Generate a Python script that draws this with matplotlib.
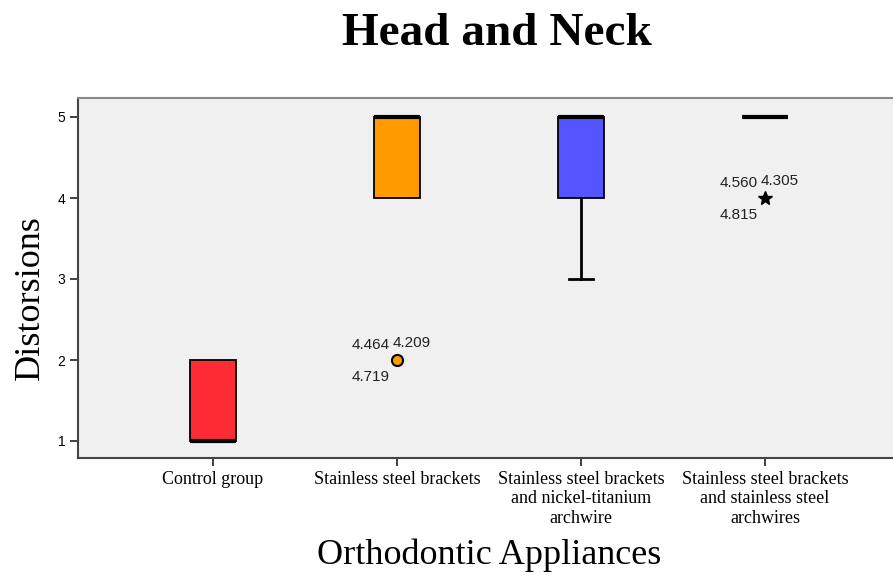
import matplotlib
matplotlib.use("Agg")
import matplotlib.pyplot as plt

categories = ["Control group", "Stainless steel brackets",
              "Stainless steel brackets\nand nickel-titanium\narchwire",
              "Stainless steel brackets\nand stainless steel\narchwires"]
q1 = [1, 4, 4, 5]
med = [1, 5, 5, 5]
q3 = [2, 5, 5, 5]
whislo = [1, 4, 3, 5]
whishi = [2, 5, 5, 5]
colors = ["#ff2b35", "#ff9a00", "#5555ff", "#ffffff"]
outlier_values = [None, 2, None, 4]
outlier_labels = [None, ["4.464", "4.209", "4.719"], None, ["4.560", "4.305", "4.815"]]
yticks = [1, 2, 3, 4, 5]

fig = plt.figure(figsize=(8.93, 5.76), dpi=100)
ax = fig.add_axes([78/893, 1 - 458/576, (893 - 78)/893, (458 - 98)/576])
ax.set_facecolor("#f0f0f0")

positions = [1, 2, 3, 4]
stats = []
for i in range(4):
    stats.append(dict(med=med[i], q1=q1[i], q3=q3[i], whislo=whislo[i],
                      whishi=whishi[i], fliers=[]))

bp = ax.bxp(stats, positions=positions, widths=0.25, patch_artist=True,
            showfliers=False, capwidths=0.13,
            boxprops=dict(linewidth=1.3, edgecolor="black"),
            medianprops=dict(color="black", linewidth=3),
            whiskerprops=dict(color="black", linewidth=2),
            capprops=dict(color="black", linewidth=2))
for i, patch in enumerate(bp["boxes"]):
    patch.set_facecolor(colors[i])
    if q1[i] == q3[i]:
        patch.set_edgecolor("none")
for i in range(4):
    if whislo[i] == q1[i]:
        bp["whiskers"][2*i].set_visible(False)
        bp["caps"][2*i].set_visible(False)
    if whishi[i] == q3[i]:
        bp["whiskers"][2*i+1].set_visible(False)
        bp["caps"][2*i+1].set_visible(False)

for i in range(4):
    v = outlier_values[i]
    if v is None:
        continue
    x = positions[i]
    if i == 1:
        ax.plot([x], [v], marker="o", markersize=8, markerfacecolor=colors[i],
                markeredgecolor="black", markeredgewidth=1.5, zorder=5)
    else:
        ax.plot([x], [v], marker="*", markersize=10, color="black", zorder=5)
    labs = outlier_labels[i]
    kw = dict(xycoords="data", textcoords="offset pixels", fontsize=11,
              family="Liberation Sans", color="#222222", va="center")
    ax.annotate(labs[0], (x, v), xytext=(-7, 15), ha="right", **kw)
    ax.annotate(labs[1], (x, v), xytext=(-4, 17), ha="left", **kw)
    ax.annotate(labs[2], (x, v), xytext=(-7, -17), ha="right", **kw)

ax.set_xlim(1 - 135/184, 4 + 128/184)
ax.set_ylim(1 - 17/81, 5 + 19/81)
ax.set_yticks(yticks)
ax.set_yticklabels([str(t) for t in yticks], family="Liberation Sans", fontsize=10)
ax.set_xticks(positions)
ax.set_xticklabels(categories, family="Liberation Serif", fontsize=13,
                   linespacing=1.2)
ax.tick_params(axis="both", direction="out", length=6, width=1.3, color="#333333")
ax.tick_params(axis="x", pad=3)
ax.tick_params(axis="y", pad=3)

for s in ["left", "bottom"]:
    ax.spines[s].set_linewidth(1.5)
    ax.spines[s].set_color("#444444")
ax.spines["top"].set_color("#888888")
ax.spines["top"].set_linewidth(1.5)
ax.spines["right"].set_visible(False)

fig.text(497/893, 1 - 34/576, "Head and Neck", family="Liberation Serif",
         fontweight="bold", fontsize=34, ha="center", va="center")
fig.text(30/893, 1 - 298/576, "Distorsions", family="Liberation Serif",
         fontsize=26, rotation=90, ha="center", va="center")
fig.text(489/893, 1 - 555/576, "Orthodontic Appliances", family="Liberation Serif",
         fontsize=26, ha="center", va="center")

fig.savefig("out.png", dpi=100)
